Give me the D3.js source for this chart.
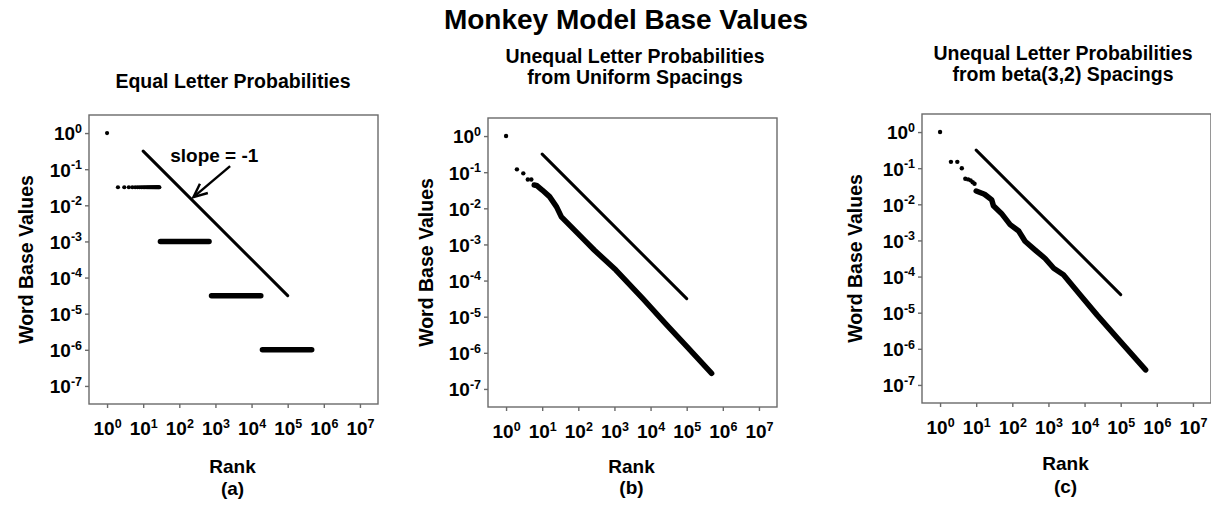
<!DOCTYPE html>
<html><head><meta charset="utf-8">
<script src="https://cdn.jsdelivr.net/npm/d3@7"></script>
<style>
body{margin:0;background:#fff}
svg{display:block}
text{font-family:"Liberation Sans",Arial,Helvetica,sans-serif;font-weight:bold;fill:#000}
</style>
</head><body>
<svg id="chart" width="1211" height="505"></svg>
<script>
// ---------- text ----------
const mainTitle = "Monkey Model Base Values";
const panelTitles = [
  ["Equal Letter Probabilities"],
  ["Unequal Letter Probabilities", "from Uniform Spacings"],
  ["Unequal Letter Probabilities", "from beta(3,2) Spacings"]
];
const panelTags = ["(a)", "(b)", "(c)"];
const xAxisTitle = "Rank";
const yAxisTitle = "Word Base Values";
const xTickExponents = [0, 1, 2, 3, 4, 5, 6, 7];
const yTickExponents = [0, -1, -2, -3, -4, -5, -6, -7];

// ---------- slope = -1 reference line ----------
const refRanks = [10, 100000];
const refValues = [0.316, 0.0000316];
const slopeLabel = "slope = -1";
const slopeLabelRank = [930];          // label anchor (data units)
const slopeLabelValue = [0.155];
const arrowFromRank = [2550];
const arrowFromValue = [0.122];
const arrowToRank = [246];
const arrowToValue = [0.0168];

// ---------- panel (a): equal letter probabilities ----------
const equalPointRanks = [1, 2, 3, 4, 5, 6, 7, 8, 9, 10, 11, 12, 13, 14, 15, 16, 17, 18, 19, 20, 21, 22, 23, 24, 25, 26, 27, 28];
const equalPointValues = [1, 0.0316, 0.0316, 0.0316, 0.0316, 0.0316, 0.0316, 0.0316, 0.0316, 0.0316, 0.0316, 0.0316, 0.0316, 0.0316,
  0.0316, 0.0316, 0.0316, 0.0316, 0.0316, 0.0316, 0.0316, 0.0316, 0.0316, 0.0316, 0.0316, 0.0316, 0.0316, 0.0316];
const equalBandStartRanks = [30, 780, 20000];
const equalBandEndRanks = [665, 18000, 462000];
const equalBandValues = [0.001, 0.0000316, 0.000001];

// ---------- panel (b): uniform spacings ----------
const uniformDotRanks = [1, 2, 3, 4, 5];
const uniformDotValues = [1, 0.12, 0.093, 0.063, 0.063];
const uniformCurveRanks = [6, 7, 10, 16, 25, 34, 63, 150, 280, 1100, 6200, 27500, 100000, 490000];
const uniformCurveValues = [0.044, 0.043, 0.032, 0.021, 0.011, 0.0058, 0.0031, 0.0013, 0.00069, 0.000195, 0.000031, 0.000006, 0.0000015, 0.00000027];

// ---------- panel (c): beta(3,2) spacings ----------
const betaDotRanks = [1, 2, 3, 4, 5, 6, 7, 8, 9];
const betaDotValues = [1, 0.15, 0.15, 0.1, 0.051, 0.049, 0.046, 0.041, 0.037];
const betaCurveRanks = [10, 17, 27, 30, 50, 87, 150, 225, 430, 810, 1400, 2600, 7600, 22000, 80000, 490000];
const betaCurveValues = [0.0234, 0.019, 0.0132, 0.0091, 0.0056, 0.00275, 0.00182, 0.00095, 0.00054, 0.000316, 0.00017, 0.000112, 0.000031, 0.0000087, 0.000002, 0.00000026];

// ---------- layout ----------
const svg = d3.select("#chart");
const W = 289, H = 289;
const layout = [
  {x: 89, y: 115, titleX: 233, titleY: 88, yLabX: 33, rankY: 473, tagY: 495},
  {x: 488, y: 118, titleX: 635, titleY: 63, yLabX: 433, rankY: 473, tagY: 494},
  {x: 922, y: 114, titleX: 1063, titleY: 60, yLabX: 862, rankY: 470, tagY: 493}
];

svg.append("text").attr("x", 626).attr("y", 29).attr("text-anchor", "middle")
  .style("font-size", "28px").text(mainTitle);

function supLabel(sel, exp) {
  sel.text(null);
  sel.append("tspan").text("10");
  sel.append("tspan").attr("dy", -7.5).style("font-size", "12.5px").text(String(exp));
}

function drawPanel(i, spec) {
  const L = layout[i];
  const g = svg.append("g").attr("transform", `translate(${L.x},${L.y})`);
  const x = d3.scaleLog().domain([Math.pow(10, -0.5), Math.pow(10, 7.5)]).range([0, W]);
  const y = d3.scaleLog().domain([Math.pow(10, -7.5), Math.pow(10, 0.5)]).range([H, 0]);

  // frame
  g.append("rect").attr("x", 0).attr("y", 0).attr("width", W).attr("height", H)
    .attr("fill", "none").attr("stroke", "#6a6a6a").attr("stroke-width", 1.4);

  // axes
  const xa = g.append("g").attr("transform", `translate(0,${H})`)
    .call(d3.axisBottom(x).tickValues(xTickExponents.map(e => Math.pow(10, e))).tickSizeOuter(0).tickSize(4));
  xa.select(".domain").remove();
  xa.selectAll(".tick line").attr("stroke", "#6a6a6a").attr("stroke-width", 1.4);
  xa.selectAll(".tick text").attr("y", 31).attr("dy", 0).style("font-size", "19px")
    .attr("fill", "#000").each(function(d, k) { supLabel(d3.select(this), xTickExponents[k]); });

  const ya = g.append("g")
    .call(d3.axisLeft(y).tickValues(yTickExponents.map(e => Math.pow(10, e))).tickSizeOuter(0).tickSize(4));
  ya.select(".domain").remove();
  ya.selectAll(".tick line").attr("stroke", "#6a6a6a").attr("stroke-width", 1.4);
  ya.selectAll(".tick text").attr("x", -7).attr("dy", 6.8).style("font-size", "19px")
    .attr("fill", "#000").each(function(d, k) { supLabel(d3.select(this), yTickExponents[k]); });

  // reference line
  const line = d3.line().x(d => x(d[0])).y(d => y(d[1]));
  g.append("path").datum(d3.zip(refRanks, refValues)).attr("d", line)
    .attr("fill", "none").attr("stroke", "#000").attr("stroke-width", 3).attr("stroke-linecap", "round");

  // data
  spec.draw(g, x, y, line);

  // titles
  const t = svg.append("text").attr("text-anchor", "middle").style("font-size", "19.5px");
  panelTitles[i].forEach((s, k) => {
    t.append("tspan").attr("x", L.titleX).attr("y", L.titleY + k * 21).text(s);
  });
  svg.append("text").attr("x", L.x + W / 2 - 1).attr("y", L.rankY)
    .attr("text-anchor", "middle").style("font-size", "19px").text(xAxisTitle);
  svg.append("text").attr("x", L.x + W / 2 - 1).attr("y", L.tagY)
    .attr("text-anchor", "middle").style("font-size", "19px").text(panelTags[i]);
  svg.append("text").attr("transform", `translate(${L.yLabX},${L.y + H / 2}) rotate(-90)`)
    .attr("text-anchor", "middle").style("font-size", "19.5px").text(yAxisTitle);
}

function dots(g, x, y, ranks, values, r) {
  g.append("g").selectAll("circle").data(d3.zip(ranks, values)).join("circle")
    .attr("cx", d => x(d[0])).attr("cy", d => y(d[1])).attr("r", r).attr("fill", "#000");
}
function thickPath(g, line, ranks, values, w) {
  g.append("path").datum(d3.zip(ranks, values)).attr("d", line)
    .attr("fill", "none").attr("stroke", "#000").attr("stroke-width", w)
    .attr("stroke-linecap", "round").attr("stroke-linejoin", "round");
}

drawPanel(0, {draw: (g, x, y, line) => {
  dots(g, x, y, equalPointRanks, equalPointValues, 2.1);
  g.append("g").selectAll("line").data(d3.zip(equalBandStartRanks, equalBandEndRanks, equalBandValues)).join("line")
    .attr("x1", d => x(d[0])).attr("x2", d => x(d[1]))
    .attr("y1", d => y(d[2])).attr("y2", d => y(d[2]))
    .attr("stroke", "#000").attr("stroke-width", 5.5).attr("stroke-linecap", "round");
  // annotation
  g.append("text").attr("x", x(slopeLabelRank[0])).attr("y", y(slopeLabelValue[0]))
    .attr("text-anchor", "middle").style("font-size", "19px").text(slopeLabel);
  const x1 = x(arrowFromRank[0]), y1 = y(arrowFromValue[0]);
  const x2 = x(arrowToRank[0]), y2 = y(arrowToValue[0]);
  g.append("line").attr("x1", x1).attr("y1", y1).attr("x2", x2).attr("y2", y2)
    .attr("stroke", "#000").attr("stroke-width", 2.4);
  const ang = Math.atan2(y1 - y2, x1 - x2), len = 15, spread = 0.42;
  const head = [[x2 + len * Math.cos(ang - spread), y2 + len * Math.sin(ang - spread)], [x2, y2],
                [x2 + len * Math.cos(ang + spread), y2 + len * Math.sin(ang + spread)]];
  g.append("path").attr("d", d3.line()(head)).attr("fill", "none").attr("stroke", "#000")
    .attr("stroke-width", 2.4).attr("stroke-linejoin", "miter");
}});

drawPanel(1, {draw: (g, x, y, line) => {
  dots(g, x, y, uniformDotRanks, uniformDotValues, 2.2);
  thickPath(g, line, uniformCurveRanks, uniformCurveValues, 5.5);
}});

drawPanel(2, {draw: (g, x, y, line) => {
  dots(g, x, y, betaDotRanks, betaDotValues, 2.2);
  thickPath(g, line, betaCurveRanks, betaCurveValues, 5.5);
}});
</script>
</body></html>
